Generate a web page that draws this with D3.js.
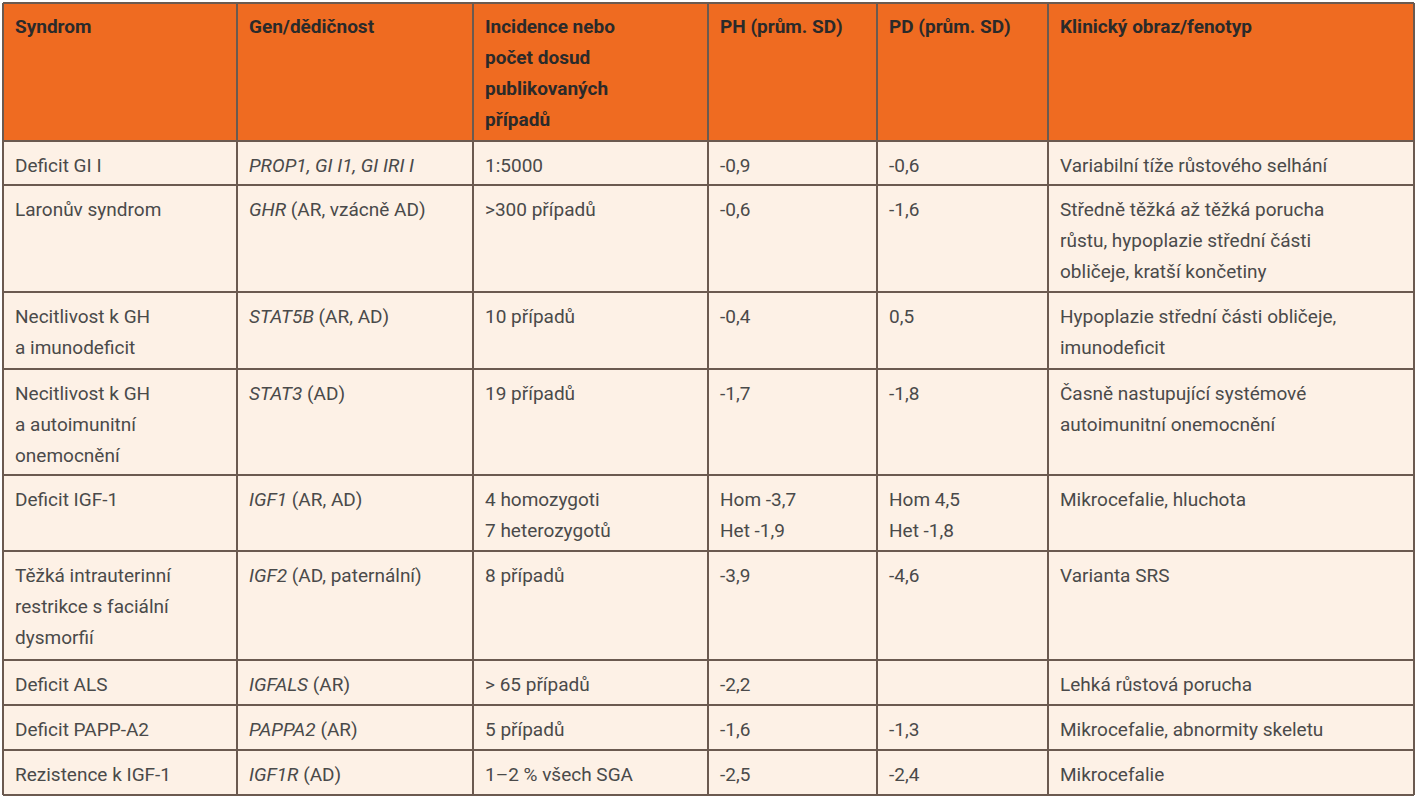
<!DOCTYPE html>
<html><head><meta charset="utf-8">
<script src="https://cdn.jsdelivr.net/npm/d3@7"></script>
<style>body{margin:0;background:#fff}</style></head>
<body><svg id="c" width="1418" height="800"></svg>
<script>
const headers = ["Syndrom","Gen/dědičnost","Incidence nebo\npočet dosud\npublikovaných\npřípadů","PH (prům. SD)","PD (prům. SD)","Klinický obraz/fenotyp"];
const syndromes = ["Deficit GI I","Laronův syndrom","Necitlivost k GH\na imunodeficit","Necitlivost k GH\na autoimunitní\nonemocnění","Deficit IGF-1","Těžká intrauterinní\nrestrikce s faciální\ndysmorfií","Deficit ALS","Deficit PAPP-A2","Rezistence k IGF-1"];
const genesItalic = ["PROP1, GI I1, GI IRI I","GHR","STAT5B","STAT3","IGF1","IGF2","IGFALS","PAPPA2","IGF1R"];
const genesPlain = [""," (AR, vzácně AD)"," (AR, AD)"," (AD)"," (AR, AD)"," (AD, paternální)"," (AR)"," (AR)"," (AD)"];
const incidence = ["1:5000",">300 případů","10 případů","19 případů","4 homozygoti\n7 heterozygotů","8 případů","> 65 případů","5 případů","1–2 % všech SGA"];
const ph = ["-0,9","-0,6","-0,4","-1,7","Hom -3,7\nHet -1,9","-3,9","-2,2","-1,6","-2,5"];
const pd = ["-0,6","-1,6","0,5","-1,8","Hom 4,5\nHet -1,8","-4,6","","-1,3","-2,4"];
const phenotype = ["Variabilní tíže růstového selhání","Středně těžká až těžká porucha\nrůstu, hypoplazie střední části\nobličeje, kratší končetiny","Hypoplazie střední části obličeje,\nimunodeficit","Časně nastupující systémové\nautoimunitní onemocnění","Mikrocefalie, hluchota","Varianta SRS","Lehká růstová porucha","Mikrocefalie, abnormity skeletu","Mikrocefalie"];

const colEdges = [3,237,473,708,877,1048,1414];
const rowEdges = [3,141,185,292,369,475,551,660,705,750,795];
const svg = d3.select("#c");
const font = "Roboto, 'Liberation Sans', sans-serif";
const lh = 31;

// backgrounds
svg.append("rect").attr("x",colEdges[0]).attr("y",rowEdges[0]).attr("width",colEdges[6]-colEdges[0]).attr("height",rowEdges[1]-rowEdges[0]).attr("fill","#EF6B21");
svg.append("rect").attr("x",colEdges[0]).attr("y",rowEdges[1]).attr("width",colEdges[6]-colEdges[0]).attr("height",rowEdges[10]-rowEdges[1]).attr("fill","#FDF1E6");

function cellText(lines, col, row, bold, color){
  const t = svg.append("text").attr("font-family",font).attr("font-size",19)
    .attr("font-weight",bold?"bold":"normal").attr("fill",color);
  lines.forEach((l,i)=>t.append("tspan").attr("x",colEdges[col]+12).attr("y",rowEdges[row]+(bold?30:31)+i*lh).text(l));
  return t;
}
headers.forEach((h,c)=>cellText(h.split("\n"),c,0,true,"#2a2a2a"));
const cols = [syndromes,null,incidence,ph,pd,phenotype];
syndromes.forEach((_,r)=>{
  cols.forEach((arr,c)=>{ if(arr) cellText(arr[r].split("\n"),c,r+1,false,"#4a4a4a"); });
  const t = svg.append("text").attr("font-family",font).attr("font-size",19).attr("fill","#4a4a4a")
    .attr("x",colEdges[1]+12).attr("y",rowEdges[r+1]+31);
  t.append("tspan").attr("font-style","italic").text(genesItalic[r]);
  t.append("tspan").text(genesPlain[r]);
});
// grid
const g = svg.append("g").attr("stroke","#6b5a50").attr("stroke-width",2);
rowEdges.forEach(y=>g.append("line").attr("x1",colEdges[0]).attr("x2",colEdges[6]).attr("y1",y).attr("y2",y));
colEdges.forEach(x=>g.append("line").attr("x1",x).attr("x2",x).attr("y1",rowEdges[0]).attr("y2",rowEdges[10]));
</script></body></html>
